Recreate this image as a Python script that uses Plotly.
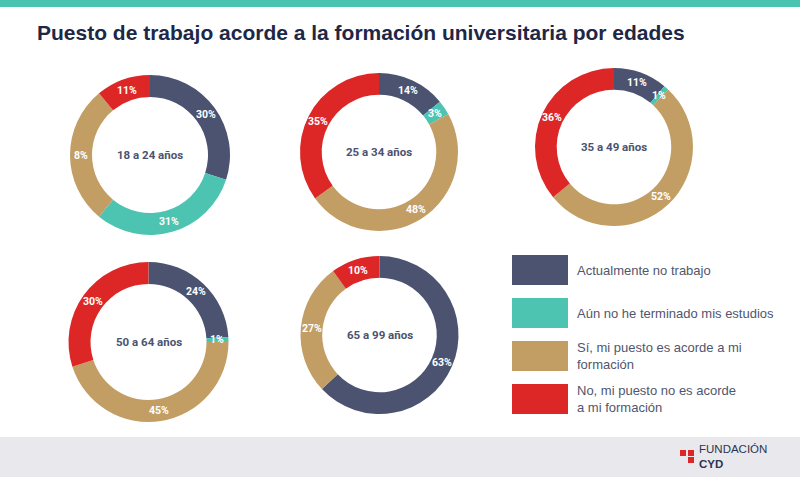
import math
import plotly.graph_objects as go

# -----------------------------
# Data
# -----------------------------
age_groups = ["18 a 24 años", "25 a 34 años", "35 a 49 años", "50 a 64 años", "65 a 99 años"]

categories = [
    "Actualmente no trabajo",
    "Aún no he terminado mis estudios",
    "Sí, mi puesto es acorde a mi formación",
    "No, mi puesto no es acorde a mi formación",
]
legend_text = [
    "Actualmente no trabajo",
    "Aún no he terminado mis estudios",
    "Sí, mi puesto es acorde a mi<br>formación",
    "No, mi puesto no es acorde<br>a mi formación",
]

values_18_24 = [30, 31, 28, 11]
values_25_34 = [14, 3, 48, 35]
values_35_49 = [11, 1, 52, 36]
values_50_64 = [24, 1, 45, 30]
values_65_99 = [63, 0, 27, 10]

# printed labels (the original prints "8%" on the tan slice of 18-24)
labels_18_24 = ["30%", "31%", "8%", "11%"]
labels_25_34 = ["14%", "3%", "48%", "35%"]
labels_35_49 = ["11%", "1%", "52%", "36%"]
labels_50_64 = ["24%", "1%", "45%", "30%"]
labels_65_99 = ["63%", "", "27%", "10%"]

all_values = [values_18_24, values_25_34, values_35_49, values_50_64, values_65_99]
all_labels = [labels_18_24, labels_25_34, labels_35_49, labels_50_64, labels_65_99]

colors = ["#4b5370", "#4cc4b1", "#c29e64", "#dd2727"]

# -----------------------------
# Layout (pixels)
# -----------------------------
W, H = 800, 477
HOLE = 0.725
# center x, center y, radius
donut_pos = [
    (150, 155, 80),
    (379, 152, 79),
    (614, 147, 79),
    (148.5, 342, 80),
    (379.5, 335, 79),
]

NARROW = "Roboto, Liberation Sans, Arial, sans-serif"
SANS = "Liberation Sans, Arial, Helvetica, sans-serif"


def px(x):
    return x / W


def py(y):
    return 1 - y / H


fig = go.Figure()
annotations = []

for name, vals, labs, (cx, cy, r) in zip(age_groups, all_values, all_labels, donut_pos):
    fig.add_trace(go.Pie(
        labels=categories,
        values=vals,
        hole=HOLE,
        sort=False,
        direction="clockwise",
        rotation=0,
        marker=dict(colors=colors, line=dict(width=0)),
        textinfo="none",
        hoverinfo="label+percent",
        showlegend=False,
        domain=dict(x=[px(cx - r), px(cx + r)], y=[py(cy + r), py(cy - r)]),
    ))

    # center label
    annotations.append(dict(
        x=px(cx), y=py(cy), xref="paper", yref="paper", text=name, showarrow=False,
        xanchor="center", yanchor="middle",
        font=dict(family=NARROW, size=11.5, color="#4b5370", weight="bold"),
    ))

    # percentage labels at the mid angle of each slice
    total = sum(vals)
    rm = r * (1 + HOLE) / 2
    cum = 0
    for v, lab in zip(vals, labs):
        if v > 0 and lab:
            theta = (cum + v / 2) / total * 2 * math.pi
            annotations.append(dict(
                x=px(cx + rm * math.sin(theta)), y=py(cy - rm * math.cos(theta)),
                xref="paper", yref="paper", text=lab, showarrow=False,
                xanchor="center", yanchor="middle",
                font=dict(family=NARROW, size=10.5, color="white", weight="bold"),
            ))
        cum += v

shapes = []

# top bar and footer
shapes.append(dict(type="rect", xref="paper", yref="paper", x0=0, x1=1, y0=py(7), y1=1,
                   fillcolor="#4bc3b1", line=dict(width=0), layer="below"))
shapes.append(dict(type="rect", xref="paper", yref="paper", x0=0, x1=1, y0=0, y1=py(437),
                   fillcolor="#e9e9ed", line=dict(width=0), layer="below"))

# legend
legend_tops = [255, 298, 341, 384]
for top, col, txt in zip(legend_tops, colors, legend_text):
    shapes.append(dict(type="rect", xref="paper", yref="paper",
                       x0=px(512), x1=px(568), y0=py(top + 30), y1=py(top),
                       fillcolor=col, line=dict(width=0)))
    annotations.append(dict(
        x=px(575), y=py(top + 15), xref="paper", yref="paper", text=txt, showarrow=False,
        xanchor="left", yanchor="middle", align="left",
        font=dict(family=SANS, size=13, color="#50566e"),
    ))

# logo
for x0, y0 in [(680, 450), (688, 450), (688, 457)]:
    shapes.append(dict(type="rect", xref="paper", yref="paper",
                       x0=px(x0), x1=px(x0 + 6), y0=py(y0 + 6), y1=py(y0),
                       fillcolor="#dd2727", line=dict(width=0)))
annotations.append(dict(x=px(697), y=py(456), xref="paper", yref="paper",
                        text="FUNDACIÓN<br><b>CYD</b>", align="left",
                        showarrow=False, xanchor="left", yanchor="middle",
                        font=dict(family=SANS, size=11.5, color="#2d3450")))

# title
annotations.append(dict(
    x=px(35), y=py(33), xref="paper", yref="paper",
    text="<b>Puesto de trabajo acorde a la formación universitaria por edades</b>",
    showarrow=False, xanchor="left", yanchor="middle",
    font=dict(family=SANS, size=21, color="#1e2746"),
))

fig.update_layout(
    width=W, height=H,
    margin=dict(l=0, r=0, t=0, b=0),
    paper_bgcolor="white",
    plot_bgcolor="white",
    shapes=shapes,
    annotations=annotations,
)

fig.write_html("out.html", config={"displayModeBar": False},
               post_script="document.body.style.margin='0';")
